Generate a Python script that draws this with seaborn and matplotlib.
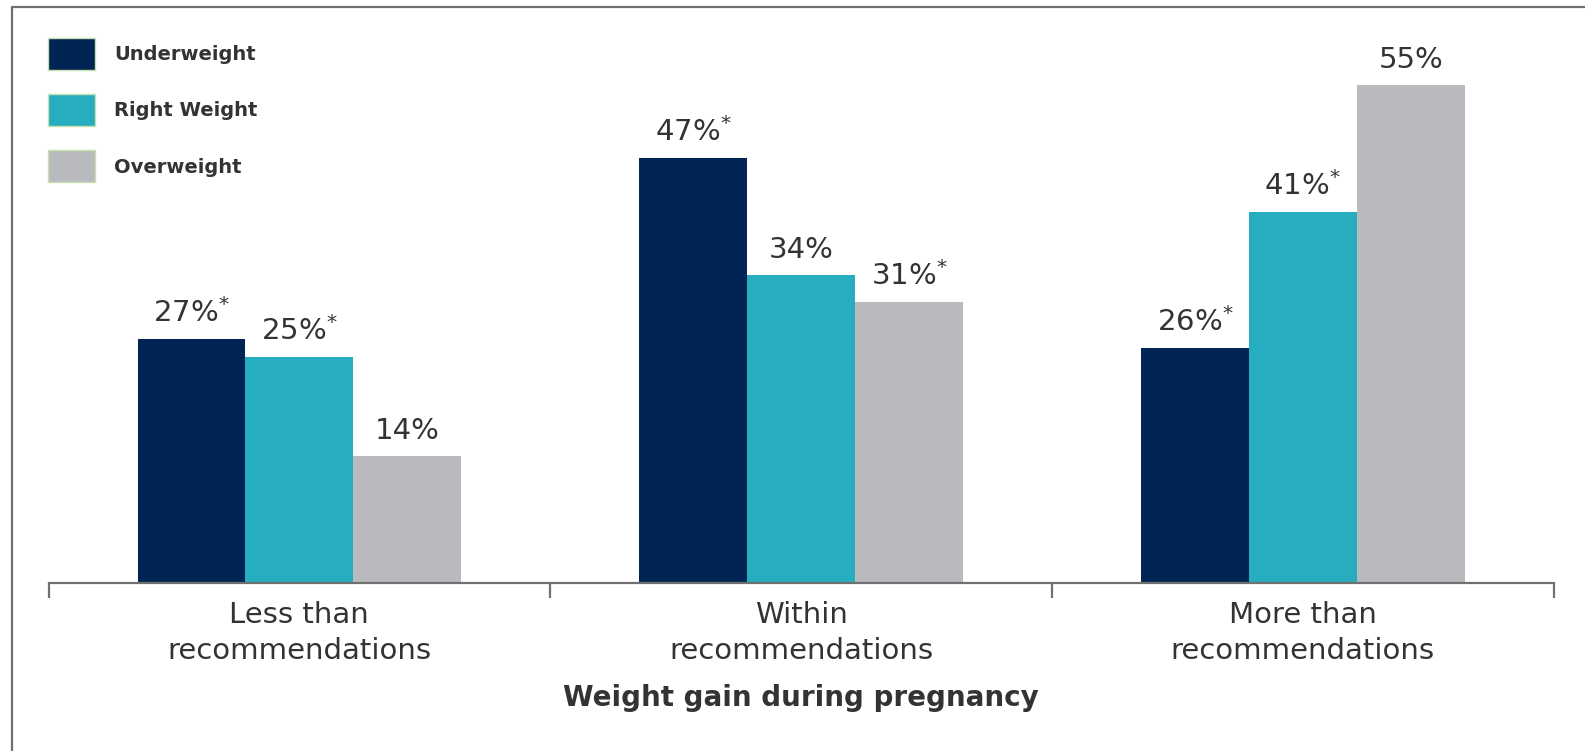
import matplotlib
matplotlib.use("Agg")
import matplotlib.pyplot as plt
from matplotlib.lines import Line2D
import seaborn as sns
import pandas as pd

# Weight gain during pregnancy by pre-pregnancy weight status (percent)
categories = ["Less than\nrecommendations", "Within\nrecommendations", "More than\nrecommendations"]
groups = ["Underweight", "Right Weight", "Overweight"]
underweight = [27, 47, 26]
right_weight = [25, 34, 41]
overweight = [14, 31, 55]
# statistically significant differences are flagged with an asterisk
underweight_sig = [True, True, True]
right_weight_sig = [True, False, True]
overweight_sig = [False, True, False]

palette = ["#002554", "#27adc0", "#b9babd"]
text_color = "#333333"
frame_color = "#707070"

series = {"Underweight": underweight, "Right Weight": right_weight, "Overweight": overweight}
flags = {"Underweight": underweight_sig, "Right Weight": right_weight_sig, "Overweight": overweight_sig}
df = pd.DataFrame(
    [(c, g, v) for g in groups for c, v in zip(categories, series[g])],
    columns=["category", "group", "value"],
)

sns.set_theme(style="white")
plt.rcParams["font.family"] = ["DejaVu Sans"]
plt.rcParams["mathtext.fontset"] = "dejavusans"

fig = plt.figure(figsize=(15.85, 7.51), dpi=100)
ax = fig.add_axes([0.0306, 0.2237, 0.9496, 0.723])

sns.barplot(
    data=df, x="category", y="value", hue="group",
    order=categories, hue_order=groups, palette=palette,
    width=0.645, saturation=1, errorbar=None, linewidth=0, ax=ax,
)

# value labels on top of each bar
for container, g in zip(ax.containers, groups):
    labels = [f"{v}%" + ("$^{*}$" if s else "") for v, s in zip(series[g], flags[g])]
    ax.bar_label(container, labels=labels, padding=8, fontsize=21, color=text_color)

ax.set_xlim(-0.5, 2.5)
ax.set_ylim(0, 60)
ax.set_yticks([])
ax.set_ylabel("")

for side in ["left", "right", "top"]:
    ax.spines[side].set_visible(False)
ax.spines["bottom"].set_color(frame_color)
ax.spines["bottom"].set_linewidth(1.6)

# category labels centred, separator ticks between categories
ax.set_xticks(range(len(categories)))
ax.set_xticklabels(categories, fontsize=21, color=text_color, linespacing=1.35)
ax.tick_params(axis="x", which="major", bottom=True, length=0, pad=13)
ax.set_xticks([-0.5, 0.5, 1.5, 2.5], minor=True)
ax.tick_params(axis="x", which="minor", bottom=True, length=11, width=1.6,
               color=frame_color, direction="out")

ax.set_xlabel("Weight gain during pregnancy", fontsize=20, fontweight="bold",
              color=text_color, labelpad=14)

handles, labels = ax.get_legend_handles_labels()
for h in handles:
    h.set_edgecolor("#c8e0b0")
    h.set_linewidth(1.0)
ax.legend(
    handles, labels, loc="upper left",
    bbox_to_anchor=(48 / 1585, 1 - 38 / 751), bbox_transform=fig.transFigure,
    frameon=False, borderpad=0, borderaxespad=0,
    prop={"size": 14, "weight": "bold"},
    handlelength=2.4, handleheight=2.15, labelspacing=1.25, handletextpad=1.0,
    labelcolor=text_color,
)

# outer frame (top and left edges)
fig.add_artist(Line2D([12 / 1585, 1], [1 - 7 / 751, 1 - 7 / 751],
                      transform=fig.transFigure, color=frame_color, linewidth=1.6))
fig.add_artist(Line2D([12 / 1585, 12 / 1585], [0, 1 - 7 / 751],
                      transform=fig.transFigure, color=frame_color, linewidth=1.6))

fig.savefig("out.png", dpi=100)
